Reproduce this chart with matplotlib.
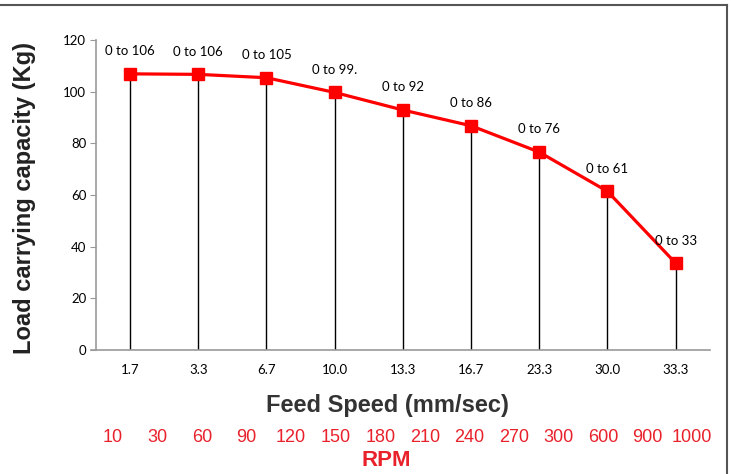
import numpy as np
import matplotlib.pyplot as plt
from matplotlib.lines import Line2D

plt.rcParams['font.family'] = ['Liberation Sans', 'DejaVu Sans']

# data
feed_speed = ['1.7', '3.3', '6.7', '10.0', '13.3', '16.7', '23.3', '30.0', '33.3']
load = [106.9, 106.7, 105.4, 99.7, 92.9, 86.8, 76.6, 61.4, 33.6]
load_labels = ['0 to 106', '0 to 106', '0 to 105', '0 to 99.', '0 to 92',
               '0 to 86', '0 to 76', '0 to 61', '0 to 33']
rpm = ['10', '30', '60', '90', '120', '150', '180', '210', '240', '270',
       '300', '600', '900', '1000']

fig = plt.figure(figsize=(7.31, 4.74), dpi=100)
ax = fig.add_axes([0.1313, 0.2616, 0.8397, 0.654])

x = np.arange(len(feed_speed))
ax.vlines(x, 0, load, color='black', lw=1, zorder=1)
ax.plot(x, load, color='#FF0000', lw=2.3, marker='s', markersize=9,
        markeredgecolor='#FF0000', zorder=3)

# data labels above the points
for xi, yi, lab in zip(x, load, load_labels):
    ax.annotate(lab, (xi, yi), xytext=(0, 12), textcoords='offset points',
                ha='center', va='bottom', fontsize=9.5, family=['Lato', 'DejaVu Sans'],
                color='black')

ax.set_xlim(-0.5, len(feed_speed) - 0.5)
ax.set_ylim(0, 120)
ax.set_yticks(range(0, 121, 20))
ax.set_xticks(x)
ax.set_xticklabels(feed_speed)
for lab in ax.get_xticklabels() + ax.get_yticklabels():
    lab.set_family(['Lato', 'DejaVu Sans'])
    lab.set_fontsize(9.5)
ax.tick_params(axis='x', length=0, pad=10)
ax.tick_params(axis='y', length=4, color='#999999', pad=3)

for s in ['top', 'right']:
    ax.spines[s].set_visible(False)
ax.spines['left'].set_color('#999999')
ax.spines['bottom'].set_color('#999999')
ax.spines['left'].set_linewidth(1.2)
ax.spines['bottom'].set_linewidth(1.2)
ax.spines['bottom'].set_bounds(-0.58, len(feed_speed) - 0.5)

ax.set_ylabel('Load carrying capacity (Kg)', fontsize=17, fontweight='bold',
              color='#222222')
ax.yaxis.set_label_coords(-0.098, 0.49)
ax.set_xlabel('Feed Speed (mm/sec)', fontsize=17, fontweight='bold',
              color='#333333')
ax.xaxis.label.set_va('center')
ax.xaxis.set_label_coords((388 - 96) / 614, -(405 - 350) / 310)

# RPM scale under the chart
rpm_x = np.linspace(113, 692, len(rpm)) / 731
for xp, r in zip(rpm_x, rpm):
    fig.text(xp, 1 - 437 / 474, r, ha='center', va='center', fontsize=13,
             color='#E8212B')
fig.text(386 / 731, 1 - 460 / 474, 'RPM', ha='center', va='center',
         fontsize=16, fontweight='bold', color='#E8212B')

# frame
fig.add_artist(Line2D([0, 727 / 731], [1 - 5 / 474, 1 - 5 / 474],
                      transform=fig.transFigure, color='#555555', lw=1.5))
fig.add_artist(Line2D([727 / 731, 727 / 731], [1 - 5 / 474, 0],
                      transform=fig.transFigure, color='#555555', lw=1.5))

fig.savefig('out.png', dpi=100)
